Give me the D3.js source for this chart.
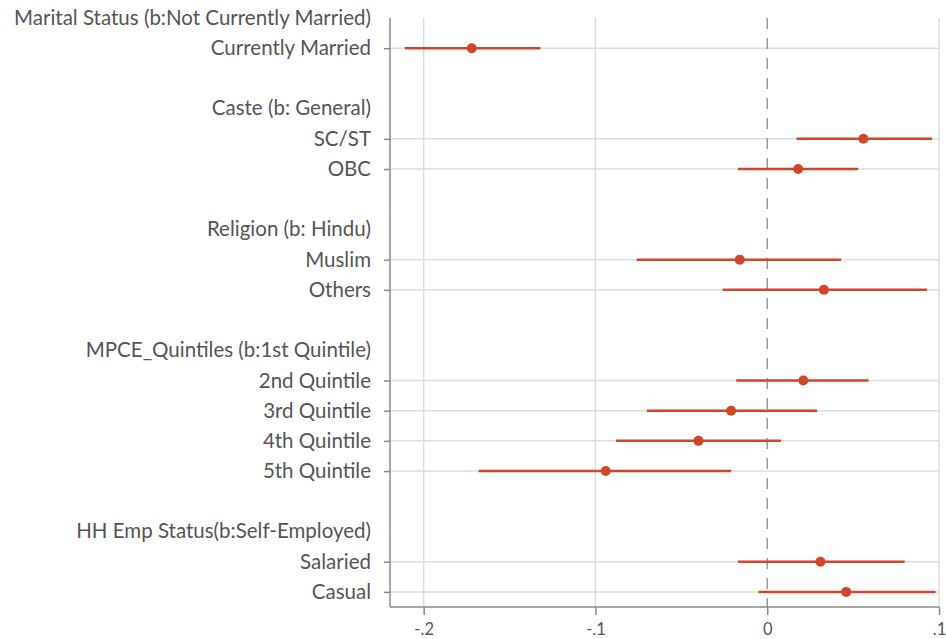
<!DOCTYPE html>
<html>
<head>
<meta charset="utf-8">
<script src="https://cdn.jsdelivr.net/npm/d3@7"></script>
<style>
  html, body { margin: 0; padding: 0; background: #fff; }
  svg { display: block; }
  text { font-family: Lato, "Open Sans", sans-serif; fill: #555; }
</style>
</head>
<body>
<svg id="chart" width="946" height="639"></svg>
<script>
// ---- data ----
const rowLabels = [
  "Marital Status (b:Not Currently Married)", "Currently Married", "",
  "Caste (b: General)", "SC/ST", "OBC", "",
  "Religion (b: Hindu)", "Muslim", "Others", "",
  "MPCE_Quintiles (b:1st Quintile)", "2nd Quintile", "3rd Quintile", "4th Quintile", "5th Quintile", "",
  "HH Emp Status(b:Self-Employed)", "Salaried", "Casual"
];
const headerRows = [0, 3, 7, 11, 17];
const estimates = [null, -0.172, null, null, 0.056, 0.018, null, null, -0.016, 0.033, null, null, 0.021, -0.021, -0.040, -0.094, null, null, 0.031, 0.046];
const lowerCI   = [null, -0.211, null, null, 0.017, -0.017, null, null, -0.076, -0.026, null, null, -0.018, -0.070, -0.088, -0.168, null, null, -0.017, -0.005];
const upperCI   = [null, -0.132, null, null, 0.096, 0.053, null, null, 0.043, 0.093, null, null, 0.059, 0.029, 0.008, -0.021, null, null, 0.080, 0.098];
const xTickValues = [-0.2, -0.1, 0, 0.1];
const xTickLabels = ["-.2", "-.1", "0", ".1"];

// ---- layout ----
const svg = d3.select("#chart");
const plotL = 390, plotR = 939, plotT = 18, plotB = 607;
const x = d3.scaleLinear().domain([-0.22, 0.1]).range([plotL - 0.7, plotR]);
const y = d3.scaleLinear().domain([0, 19.5]).range([plotT, plotB]);

const itemRows = rowLabels.map((d, i) => i).filter(i => rowLabels[i] !== "" && !headerRows.includes(i));
const red = "#d0462a";
const gridColor = "#dddddd";
const labelSize = 20.5;

// vertical grid lines
svg.append("g").selectAll("line")
  .data(xTickValues.filter(v => v !== 0))
  .join("line")
  .attr("x1", d => x(d)).attr("x2", d => x(d))
  .attr("y1", plotT).attr("y2", plotB)
  .attr("stroke", gridColor).attr("stroke-width", 1.5);

// horizontal grid lines
svg.append("g").selectAll("line")
  .data(itemRows)
  .join("line")
  .attr("x1", plotL).attr("x2", plotR)
  .attr("y1", d => y(d)).attr("y2", d => y(d))
  .attr("stroke", gridColor).attr("stroke-width", 1.5);

// zero reference line
svg.append("line")
  .attr("x1", x(0)).attr("x2", x(0))
  .attr("y1", plotT).attr("y2", plotB)
  .attr("stroke", "#9a9a9a").attr("stroke-width", 1.5)
  .attr("stroke-dasharray", "11,9");

// y axis (items)
const yAxis = svg.append("g")
  .attr("transform", `translate(${plotL},0)`)
  .call(d3.axisLeft(y).tickValues(itemRows).tickFormat(i => rowLabels[i]).tickSize(6).tickPadding(13));
yAxis.select(".domain").attr("stroke", "#8a8a8a").attr("stroke-width", 1.5)
  .attr("d", `M0,${plotT}V${plotB}`);
yAxis.selectAll(".tick line").attr("stroke", "#8a8a8a").attr("stroke-width", 1.5);
yAxis.selectAll(".tick text").attr("font-size", labelSize).attr("fill", "#555")
  .attr("font-family", "Lato, 'Open Sans', sans-serif");

// header labels
svg.append("g").selectAll("text")
  .data(headerRows)
  .join("text")
  .attr("x", plotL - 19)
  .attr("y", d => y(d))
  .attr("dy", "0.32em")
  .attr("text-anchor", "end")
  .attr("font-size", labelSize)
  .text(d => rowLabels[d]);

// x axis
const xAxis = svg.append("g")
  .attr("transform", `translate(0,${plotB})`)
  .call(d3.axisBottom(x).tickValues(xTickValues).tickFormat((d, i) => xTickLabels[i]).tickSize(8).tickPadding(8));
xAxis.select(".domain").attr("stroke", "#8a8a8a").attr("stroke-width", 1.5)
  .attr("d", `M${plotL},0H${plotR}`);
xAxis.selectAll(".tick line").attr("stroke", "#8a8a8a").attr("stroke-width", 1.5);
xAxis.selectAll(".tick text").attr("font-size", 16.5).attr("fill", "#555")
  .attr("font-family", "Lato, 'Open Sans', sans-serif");

// confidence intervals
const pts = itemRows.map(i => ({ i, est: estimates[i], lo: lowerCI[i], hi: upperCI[i] }));
svg.append("g").selectAll("line")
  .data(pts)
  .join("line")
  .attr("x1", d => x(d.lo)).attr("x2", d => x(d.hi))
  .attr("y1", d => y(d.i)).attr("y2", d => y(d.i))
  .attr("stroke", red).attr("stroke-width", 2.5);

// point estimates
svg.append("g").selectAll("circle")
  .data(pts)
  .join("circle")
  .attr("cx", d => x(d.est))
  .attr("cy", d => y(d.i))
  .attr("r", 5)
  .attr("fill", red);
</script>
</body>
</html>
